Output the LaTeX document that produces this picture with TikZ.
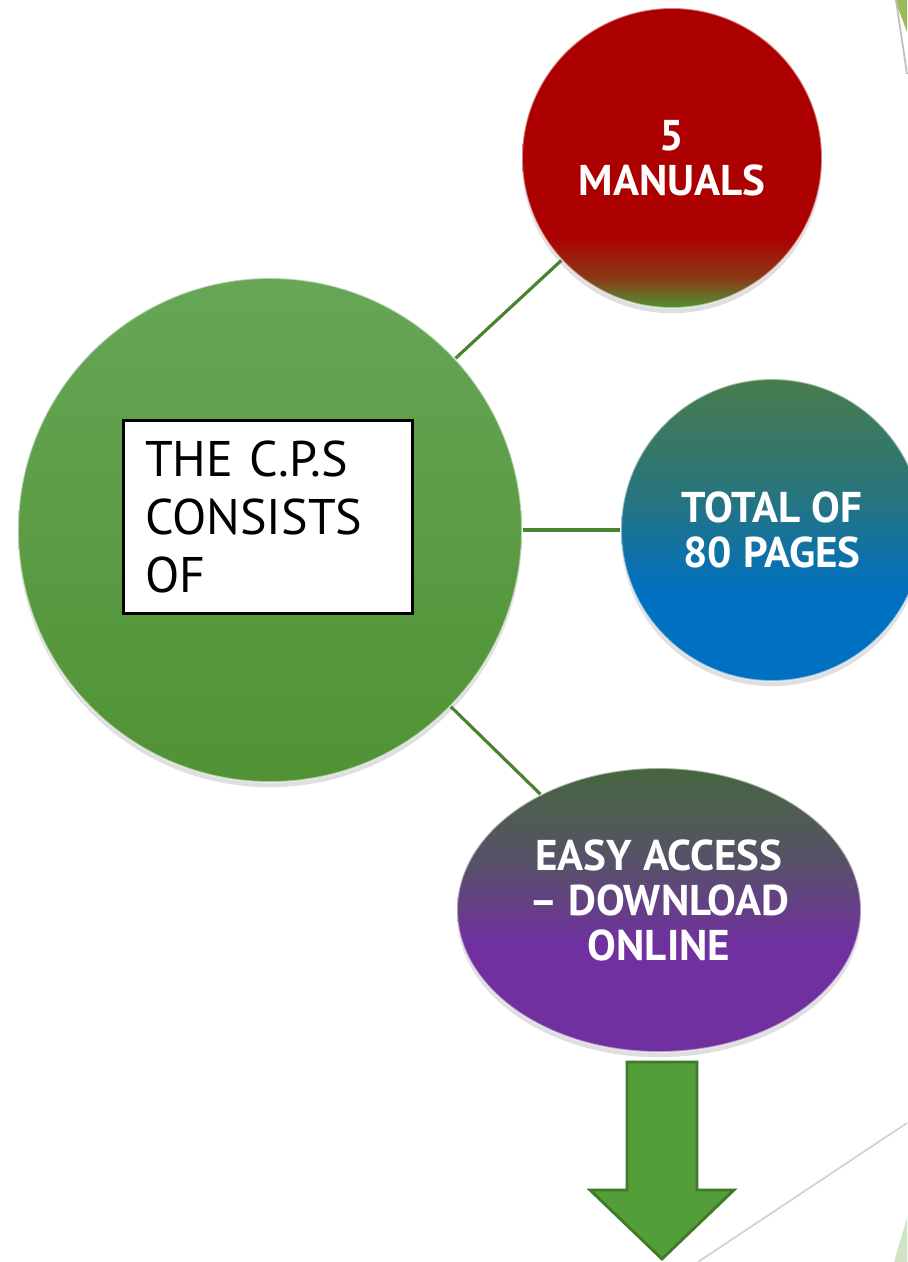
\documentclass[tikz,border=0pt]{standalone}
\usepackage{fontspec}
\setmainfont{PT Sans}
\usetikzlibrary{shapes.geometric,shadows}

\definecolor{hubgreen}{RGB}{80,146,52}
\definecolor{hubtop}{RGB}{102,166,86}
\definecolor{linkgreen}{RGB}{72,132,46}
\definecolor{manred}{RGB}{172,0,0}
\definecolor{manbrown}{RGB}{138,58,22}
\definecolor{pagegreen}{RGB}{72,124,74}
\definecolor{pageteal}{RGB}{38,116,128}
\definecolor{pageblue}{RGB}{0,112,192}
\definecolor{dlgreen}{RGB}{70,102,62}
\definecolor{dlgrey}{RGB}{88,80,106}
\definecolor{dlpurple}{RGB}{112,48,160}
\definecolor{arrowfill}{RGB}{84,158,57}
\definecolor{arrowedge}{RGB}{62,122,40}
\definecolor{cornergreen}{RGB}{155,187,89}
\definecolor{cornerpale}{RGB}{208,227,194}

\pgfdeclareverticalshading{redshade}{100bp}{color(0bp)=(hubgreen); color(25bp)=(hubgreen); color(30bp)=(manbrown); color(37bp)=(manred); color(100bp)=(manred)}
\pgfdeclareverticalshading{blueshade}{100bp}{color(0bp)=(pageblue); color(40bp)=(pageblue); color(55bp)=(pageteal); color(75bp)=(pagegreen); color(100bp)=(pagegreen)}
\pgfdeclareverticalshading{purpleshade}{100bp}{color(0bp)=(dlpurple); color(44bp)=(dlpurple); color(58bp)=(dlgrey); color(75bp)=(dlgreen); color(100bp)=(dlgreen)}

\begin{document}
\begin{tikzpicture}[x=0.02cm,y=-0.02cm,
  bubble/.style={circle,draw=white,draw opacity=0.5,line width=1pt,
    drop shadow={opacity=0.25,shadow xshift=0pt,shadow yshift=-3pt}},
  bubbletext/.style={white,align=center,font=\fontsize{24.5}{25.6}\selectfont\bfseries},
  link/.style={linkgreen,line width=1.8pt}]
\useasboundingbox (0,0) rectangle (907,1262);

% corner decoration
\fill[cornergreen] (895,0) -- (907,0) -- (907,32) -- cycle;
\draw[gray!50,line width=1pt] (896,0) -- (907,74);
\draw[gray!35,line width=1pt] (698,1262) -- (907,1123);
\fill[cornerpale] (894,1262) -- (907,1218) -- (907,1262) -- cycle;

% main circle
\node[bubble,minimum size=10.08cm,top color=hubtop,bottom color=hubgreen] (hub) at (270,530) {};
\node[draw=black,fill=white,line width=1.7pt,minimum width=5.8cm,minimum height=3.88cm,
  text width=4.92cm,inner xsep=0.44cm,align=left,
  font=\fontsize{28.5}{32.8}\selectfont] (cps) at (268,517) {THE C.P.S\\CONSISTS\\OF};

% three parts
\node[bubble,bubbletext,minimum size=6cm,shading=redshade] (manuals) at (672,158) {5\\MANUALS};
\node[bubble,bubbletext,minimum size=6.04cm,shading=blueshade] (pages) at (772,530) {TOTAL OF\\80 PAGES};
\node[bubble,ellipse,minimum width=8.08cm,minimum height=5.68cm,shading=purpleshade] (download) at (659,910) {};
\node[bubbletext] (dltext) at (659,900) {EASY ACCESS\\– DOWNLOAD\\ONLINE};

% links
\draw[link] (hub) -- (manuals);
\draw[link] (hub) -- (pages);
\draw[link] (hub) -- (download);

% arrow down
\draw[fill=arrowfill,draw=arrowedge,line width=1.6pt,line join=miter]
  (627,1062) -- (697,1062) -- (697,1190) -- (734,1190) -- (662,1259)
  -- (590,1190) -- (627,1190) -- cycle;
\end{tikzpicture}
\end{document}
